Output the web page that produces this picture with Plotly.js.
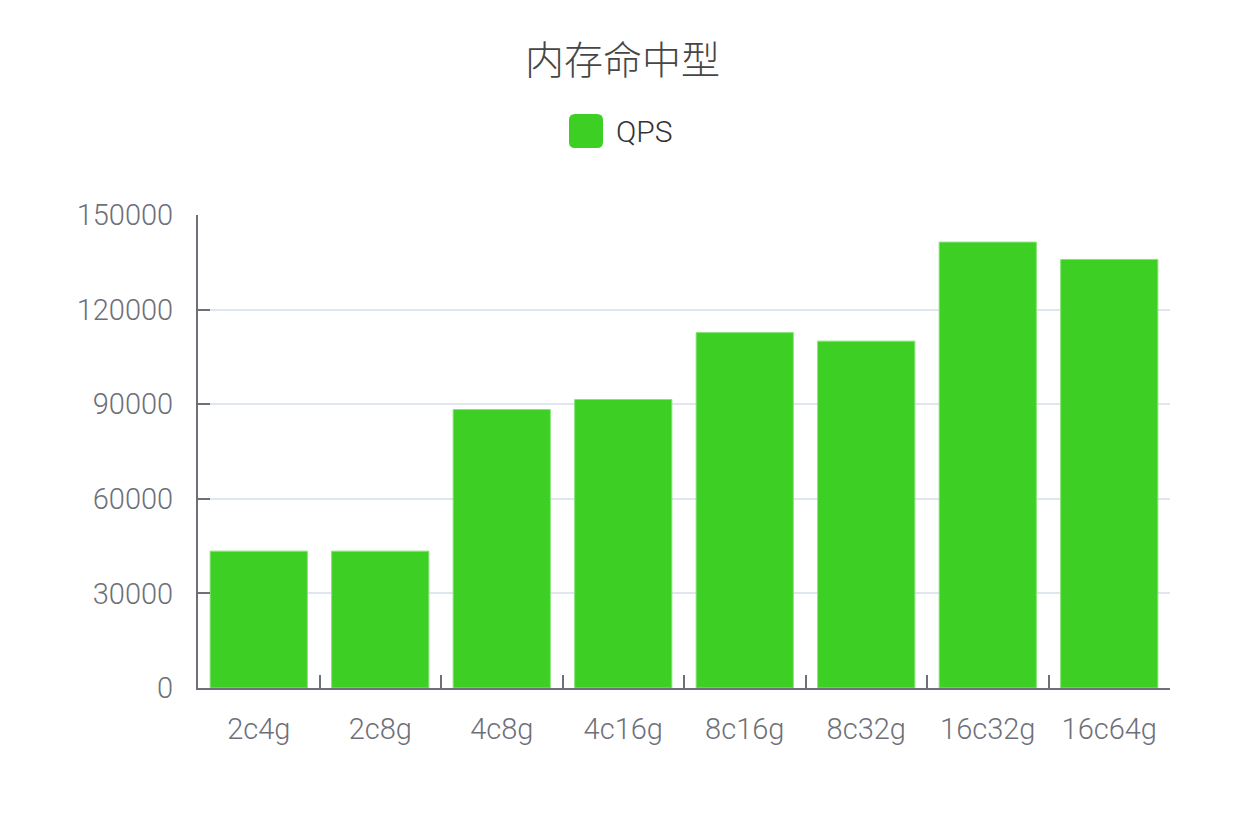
<!DOCTYPE html>
<html>
<head>
<meta charset="utf-8">
<script src="https://cdn.plot.ly/plotly-3.0.1.min.js"></script>
<style>html,body{margin:0;padding:0;background:#fff;}#chart{width:1245px;height:820px;}</style>
</head>
<body>
<div id="chart"></div>
<script>
const categories = ['2c4g', '2c8g', '4c8g', '4c16g', '8c16g', '8c32g', '16c32g', '16c64g'];
const qps = [43400, 43400, 88300, 91500, 112700, 110000, 141400, 135900];
const seriesName = 'QPS';
const titleText = '内存命中型';

const green = '#3dcf24';
const axisColor = '#6e7079';
const latin = 'Roboto, "Liberation Sans", sans-serif';

// legend geometry (paper coords relative to plot area 198..1170 x, 215..688 y)
const W = 972, H = 473;
const px = v => (v - 198) / W;
const py = v => (688 - v) / H;
const lx0 = px(569), lx1 = px(603), ly0 = py(148), ly1 = py(114);
const rx = 6 / W, ry = 6 / H;
const legendPath = `M ${lx0 + rx} ${ly1} L ${lx1 - rx} ${ly1} Q ${lx1} ${ly1} ${lx1} ${ly1 - ry} ` +
  `L ${lx1} ${ly0 + ry} Q ${lx1} ${ly0} ${lx1 - rx} ${ly0} L ${lx0 + rx} ${ly0} Q ${lx0} ${ly0} ${lx0} ${ly0 + ry} ` +
  `L ${lx0} ${ly1 - ry} Q ${lx0} ${ly1} ${lx0 + rx} ${ly1} Z`;

const trace = {
  type: 'bar',
  x: categories,
  y: qps,
  name: seriesName,
  marker: { color: green, line: { color: '#86e276', width: 1 } },
  showlegend: false,
  hoverinfo: 'x+y'
};

const layout = {
  width: 1245,
  height: 820,
  margin: { l: 198, r: 75, t: 215, b: 132 },
  paper_bgcolor: '#ffffff',
  plot_bgcolor: '#ffffff',
  bargap: 0.2,
  title: {
    text: titleText,
    font: { family: '"Noto Sans CJK SC", sans-serif', size: 39, color: '#464646', weight: 300 },
    x: 0.5, xanchor: 'center',
    y: 1 - 60 / 820, yanchor: 'middle', yref: 'container'
  },
  xaxis: {
    type: 'category',
    showline: true, linecolor: axisColor, linewidth: 2,
    ticks: 'inside', tickson: 'boundaries', ticklen: 13, tickwidth: 2, tickcolor: axisColor,
    showgrid: false,
    tickfont: { family: latin, size: 29, color: axisColor, weight: 300 },
    ticklabelstandoff: 14,
    fixedrange: true
  },
  yaxis: {
    range: [0, 150000], dtick: 30000, tick0: 0,
    showline: true, linecolor: axisColor, linewidth: 2,
    ticks: 'inside', ticklen: 12, tickwidth: 2, tickcolor: axisColor,
    showgrid: true, gridcolor: '#e0e6f1', gridwidth: 2,
    zeroline: false,
    tickformat: 'd',
    tickfont: { family: latin, size: 29, color: axisColor, weight: 300 },
    ticklabelstandoff: 17,
    fixedrange: true
  },
  shapes: [
    { type: 'path', xref: 'paper', yref: 'paper', path: legendPath,
      fillcolor: green, line: { width: 0 } }
  ],
  annotations: [
    { xref: 'paper', yref: 'paper', x: px(614), y: py(131), xanchor: 'left', yanchor: 'middle',
      text: seriesName, showarrow: false,
      font: { family: latin, size: 30, color: '#333333', weight: 300 } }
  ]
};

Plotly.newPlot('chart', [trace], layout, { displayModeBar: false, staticPlot: true });
</script>
</body>
</html>
